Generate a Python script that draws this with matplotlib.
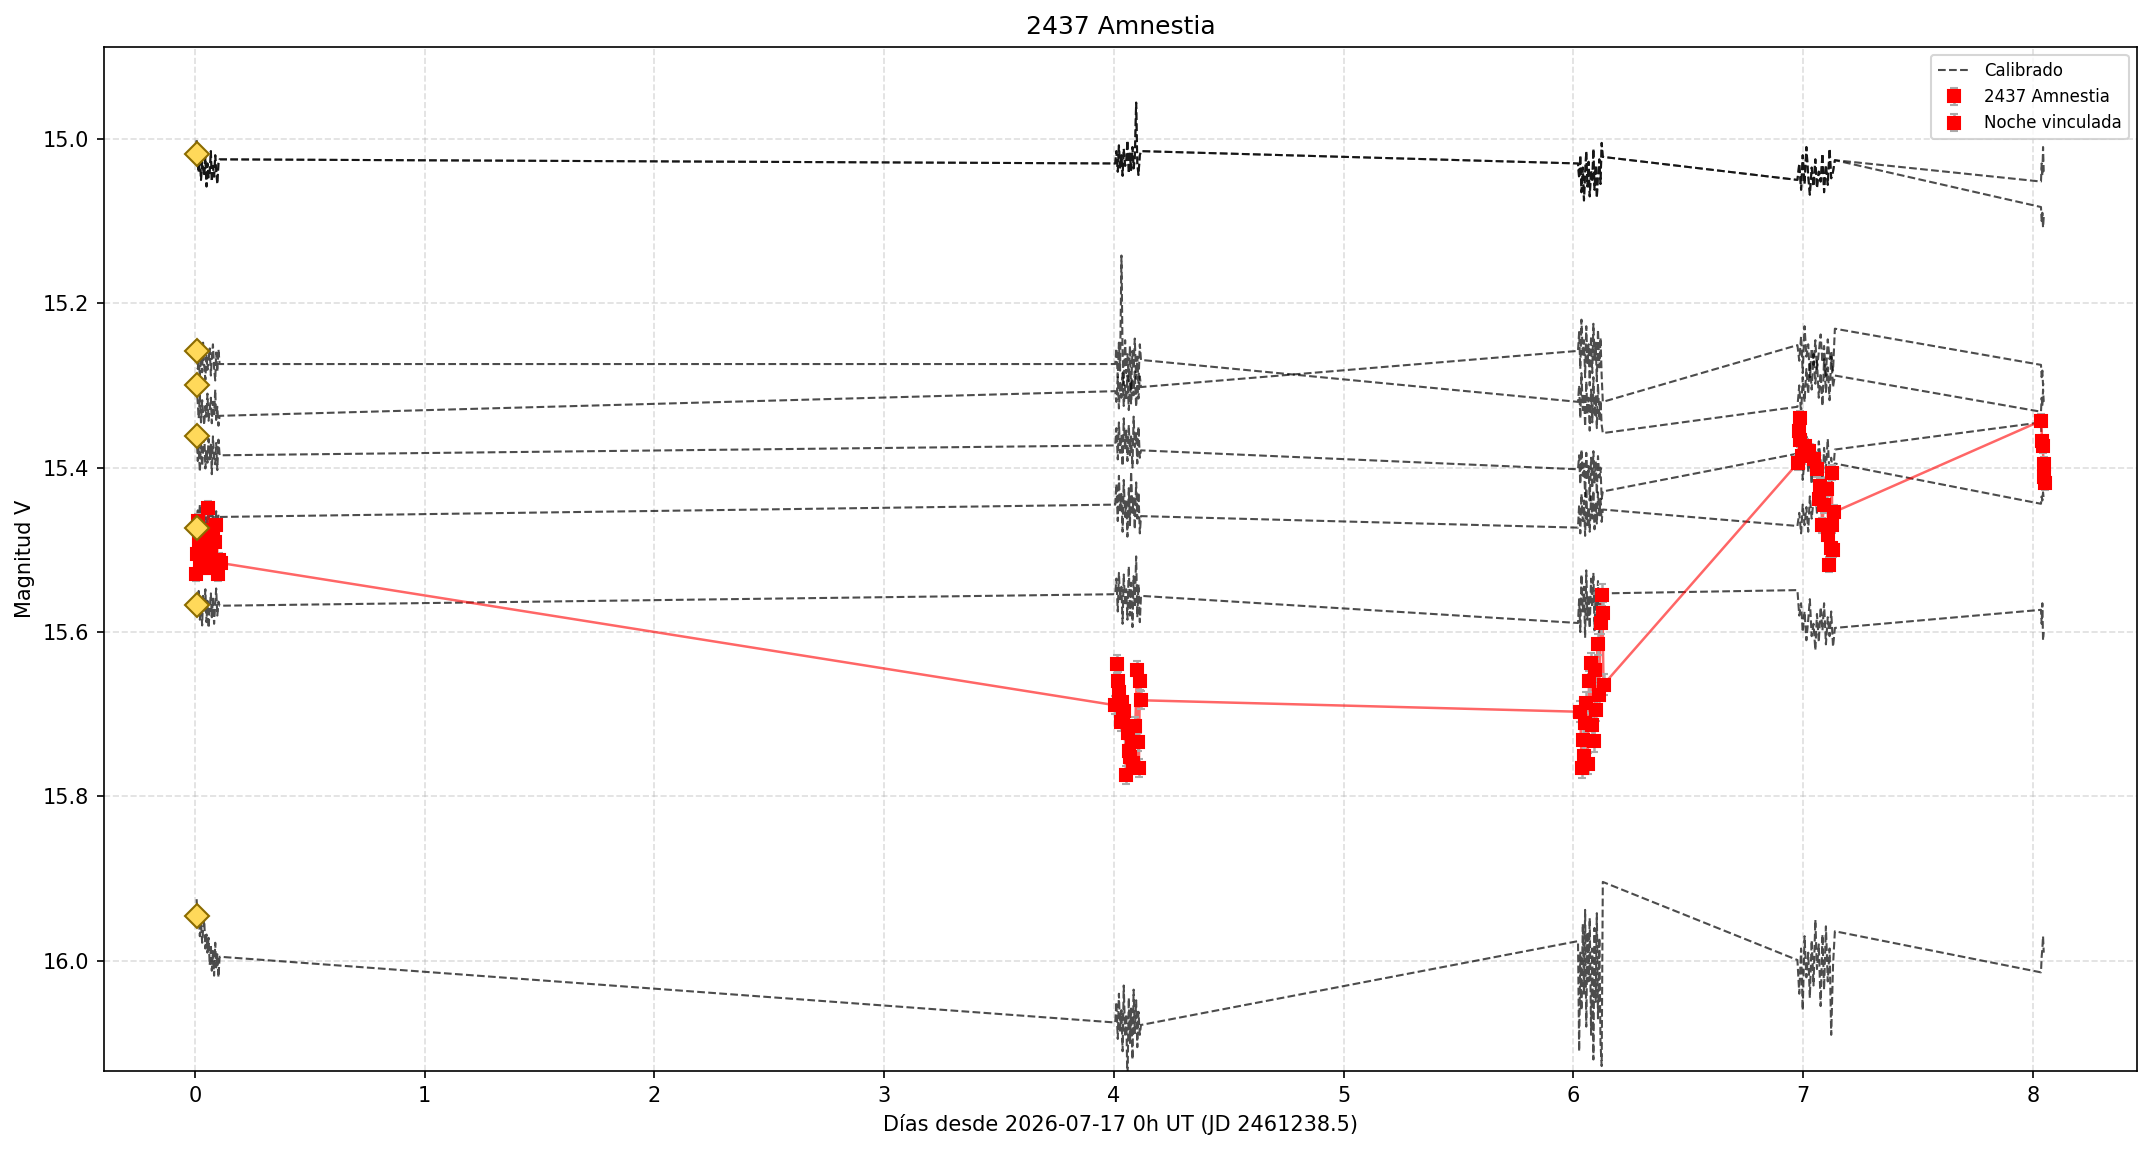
import matplotlib
matplotlib.use("Agg")
import matplotlib.pyplot as plt

# ---------------- data ----------------
# shared frame times of the comparison stars, per night
t_n0 = [0.008, 0.013, 0.017, 0.022, 0.027, 0.032, 0.036, 0.041, 0.046, 0.051, 0.055,
        0.060, 0.065, 0.070, 0.074, 0.079, 0.084, 0.089, 0.093, 0.098, 0.103, 0.108]
t_n4 = [4.006, 4.011, 4.017, 4.022, 4.027, 4.033, 4.038, 4.043, 4.049, 4.054, 4.059,
        4.065, 4.070, 4.075, 4.081, 4.086, 4.091, 4.097, 4.102, 4.107, 4.113, 4.118]
t_n6 = [6.020, 6.025, 6.030, 6.035, 6.041, 6.046, 6.051, 6.056, 6.061, 6.066, 6.071,
        6.077, 6.082, 6.087, 6.092, 6.097, 6.102, 6.107, 6.113, 6.118, 6.123, 6.128]
t_n7 = [6.975, 6.983, 6.991, 6.998, 7.006, 7.014, 7.022, 7.029, 7.037, 7.045, 7.053,
        7.060, 7.068, 7.076, 7.084, 7.091, 7.099, 7.107, 7.115, 7.122, 7.130, 7.138]
t_n8 = [8.035, 8.038, 8.041, 8.044, 8.047]

# calibrated comparison-star magnitudes (night 0, 4, 6, 7, 8)
s1_n0 = [15.002, 15.032, 15.041, 15.018, 15.050, 15.028, 15.036, 15.045, 15.022, 15.058, 15.030,
         15.047, 15.040, 15.015, 15.052, 15.033, 15.046, 15.020, 15.038, 15.055, 15.030, 15.025]
s1_n4 = [15.030, 15.015, 15.040, 15.008, 15.035, 15.020, 15.045, 15.012, 15.033, 15.028, 15.002,
         15.042, 15.018, 15.038, 15.010, 15.036, 15.025, 14.956, 15.030, 15.044, 15.020, 15.015]
s1_n6 = [15.030, 15.048, 15.020, 15.065, 15.035, 15.075, 15.042, 15.015, 15.058, 15.028, 15.070,
         15.038, 15.052, 15.012, 15.062, 15.032, 15.072, 15.045, 15.025, 15.055, 15.005, 15.022]
s1_n7 = [15.050, 15.030, 15.062, 15.020, 15.055, 15.010, 15.045, 15.068, 15.035, 15.058, 15.025,
         15.060, 15.040, 15.052, 15.018, 15.065, 15.032, 15.056, 15.012, 15.048, 15.040, 15.026]
s1_n8 = [15.052, 15.030, 15.045, 15.010, 15.040]
s1b_n8 = [15.083, 15.100, 15.090, 15.108, 15.095]

s2_n0 = [15.252, 15.280, 15.265, 15.290, 15.258, 15.284, 15.248, 15.276, 15.293, 15.262, 15.281,
         15.270, 15.255, 15.288, 15.266, 15.250, 15.279, 15.294, 15.260, 15.283, 15.256, 15.274]
s2_n4 = [15.274, 15.255, 15.290, 15.248, 15.282, 15.142, 15.262, 15.300, 15.245, 15.285, 15.262,
         15.295, 15.252, 15.305, 15.258, 15.280, 15.243, 15.292, 15.265, 15.298, 15.250, 15.269]
s2_n6 = [15.320, 15.300, 15.340, 15.285, 15.330, 15.310, 15.350, 15.295, 15.335, 15.315, 15.355,
         15.305, 15.345, 15.290, 15.338, 15.312, 15.352, 15.298, 15.342, 15.318, 15.348, 15.358]
s2_n7 = [15.326, 15.300, 15.335, 15.290, 15.320, 15.280, 15.310, 15.272, 15.305, 15.262, 15.298,
         15.270, 15.315, 15.285, 15.325, 15.268, 15.308, 15.278, 15.318, 15.265, 15.302, 15.288]
s2_n8 = [15.332, 15.315, 15.325, 15.305, 15.320]

s3_n0 = [15.300, 15.322, 15.340, 15.312, 15.345, 15.318, 15.333, 15.348, 15.325, 15.338, 15.310,
         15.343, 15.328, 15.315, 15.346, 15.320, 15.335, 15.305, 15.342, 15.326, 15.349, 15.337]
s3_n4 = [15.307, 15.320, 15.290, 15.328, 15.295, 15.315, 15.285, 15.325, 15.300, 15.318, 15.288,
         15.330, 15.296, 15.322, 15.292, 15.312, 15.283, 15.326, 15.298, 15.316, 15.289, 15.302]
s3_n6 = [15.258, 15.235, 15.280, 15.220, 15.265, 15.245, 15.290, 15.228, 15.275, 15.250, 15.300,
         15.240, 15.285, 15.225, 15.270, 15.248, 15.295, 15.232, 15.278, 15.242, 15.288, 15.320]
s3_n7 = [15.251, 15.270, 15.240, 15.285, 15.228, 15.265, 15.250, 15.290, 15.255, 15.275, 15.245,
         15.280, 15.260, 15.238, 15.272, 15.252, 15.288, 15.244, 15.268, 15.258, 15.282, 15.231]
s3_n8 = [15.275, 15.290, 15.282, 15.300, 15.295]

s4_n0 = [15.360, 15.392, 15.375, 15.405, 15.368, 15.398, 15.382, 15.357, 15.401, 15.378, 15.394,
         15.365, 15.390, 15.372, 15.408, 15.362, 15.388, 15.396, 15.370, 15.403, 15.366, 15.385]
s4_n4 = [15.373, 15.352, 15.390, 15.345, 15.382, 15.360, 15.398, 15.340, 15.378, 15.355, 15.392,
         15.348, 15.385, 15.362, 15.400, 15.338, 15.375, 15.358, 15.395, 15.350, 15.388, 15.379]
s4_n6 = [15.402, 15.385, 15.420, 15.378, 15.410, 15.395, 15.435, 15.382, 15.415, 15.398, 15.440,
         15.388, 15.425, 15.380, 15.418, 15.392, 15.432, 15.386, 15.412, 15.400, 15.438, 15.429]
s4_n7 = [15.383, 15.400, 15.370, 15.415, 15.390, 15.362, 15.405, 15.385, 15.420, 15.372, 15.398,
         15.410, 15.368, 15.392, 15.425, 15.376, 15.402, 15.365, 15.412, 15.388, 15.408, 15.378]
s4_n8 = [15.345, 15.370, 15.390, 15.410, 15.425]

s5_n0 = [15.470, 15.452, 15.478, 15.445, 15.488, 15.462, 15.475, 15.450, 15.482, 15.458, 15.468,
         15.447, 15.472, 15.455, 15.485, 15.449, 15.466, 15.480, 15.453, 15.476, 15.457, 15.460]
s5_n4 = [15.445, 15.420, 15.465, 15.410, 15.452, 15.432, 15.478, 15.415, 15.460, 15.440, 15.484,
         15.425, 15.470, 15.405, 15.455, 15.436, 15.475, 15.418, 15.462, 15.430, 15.480, 15.459]
s5_n6 = [15.473, 15.445, 15.480, 15.432, 15.465, 15.440, 15.483, 15.425, 15.470, 15.448, 15.478,
         15.435, 15.462, 15.428, 15.475, 15.442, 15.468, 15.430, 15.458, 15.438, 15.466, 15.451]
s5_n7 = [15.471, 15.455, 15.480, 15.445, 15.470, 15.448, 15.478, 15.435, 15.462, 15.440, 15.425,
         15.455, 15.430, 15.450, 15.415, 15.440, 15.405, 15.432, 15.410, 15.420, 15.400, 15.395]
s5_n8 = [15.444, 15.435, 15.440, 15.430, 15.438]

s6_n0 = [15.560, 15.578, 15.550, 15.585, 15.565, 15.592, 15.556, 15.574, 15.548, 15.588, 15.562,
         15.595, 15.571, 15.553, 15.582, 15.558, 15.590, 15.566, 15.547, 15.580, 15.563, 15.568]
s6_n4 = [15.554, 15.535, 15.575, 15.528, 15.560, 15.545, 15.590, 15.530, 15.568, 15.548, 15.585,
         15.520, 15.580, 15.540, 15.594, 15.532, 15.570, 15.508, 15.582, 15.542, 15.588, 15.556]
s6_n6 = [15.589, 15.560, 15.600, 15.530, 15.575, 15.545, 15.607, 15.525, 15.585, 15.555, 15.595,
         15.535, 15.570, 15.528, 15.598, 15.548, 15.580, 15.538, 15.603, 15.550, 15.578, 15.553]
s6_n7 = [15.549, 15.580, 15.565, 15.600, 15.575, 15.610, 15.585, 15.560, 15.605, 15.590, 15.622,
         15.578, 15.612, 15.570, 15.598, 15.565, 15.615, 15.582, 15.605, 15.575, 15.618, 15.595]
s6_n8 = [15.573, 15.590, 15.565, 15.610, 15.600]

s7_n0 = [15.925, 15.958, 15.945, 15.970, 15.952, 15.978, 15.962, 15.950, 15.985, 15.968, 15.990,
         15.972, 16.005, 15.980, 16.012, 15.988, 16.018, 15.978, 16.008, 15.992, 16.020, 15.995]
s7_n4 = [16.075, 16.050, 16.095, 16.040, 16.085, 16.060, 16.110, 16.030, 16.092, 16.065, 16.150,
         16.045, 16.100, 16.058, 16.120, 16.035, 16.088, 16.048, 16.105, 16.062, 16.090, 16.078]
s7_n6 = [15.976, 16.110, 15.990, 16.060, 15.955, 16.040, 15.938, 16.080, 15.965, 16.025, 15.948,
         16.090, 15.985, 16.120, 15.960, 16.050, 15.942, 16.070, 15.972, 16.100, 16.128, 15.904]
s7_n7 = [15.999, 16.040, 15.985, 16.060, 15.970, 16.020, 15.990, 16.045, 15.975, 16.030, 15.950,
         16.010, 15.980, 16.055, 15.968, 16.035, 15.958, 16.025, 15.985, 16.090, 16.005, 15.964]
s7_n8 = [16.014, 15.995, 15.985, 15.970, 15.990]

# reference (catalogue) magnitudes of the comparison stars at the first frame
ref_mags = [15.019, 15.258, 15.299, 15.362, 15.474, 15.567, 15.946]

# asteroid 2437 Amnestia
ast_t0 = [0.007, 0.010, 0.012, 0.018, 0.024, 0.030, 0.037, 0.044, 0.051, 0.058, 0.065, 0.072,
          0.080, 0.087, 0.094, 0.101, 0.106, 0.112]
ast_m0 = [15.530, 15.505, 15.465, 15.492, 15.520, 15.476, 15.510, 15.502, 15.522, 15.449, 15.495,
          15.508, 15.484, 15.490, 15.470, 15.530, 15.512, 15.516]
ast_e0 = 0.008
ast_t4 = [4.005, 4.012, 4.018, 4.024, 4.030, 4.037, 4.040, 4.045, 4.053, 4.061, 4.068, 4.072,
          4.077, 4.085, 4.093, 4.101, 4.105, 4.109, 4.113, 4.118]
ast_m4 = [15.689, 15.639, 15.660, 15.673, 15.709, 15.685, 15.700, 15.696, 15.774, 15.723, 15.745,
          15.752, 15.734, 15.759, 15.714, 15.646, 15.734, 15.765, 15.660, 15.683]
ast_e4 = 0.011
ast_t6 = [6.030, 6.036, 6.040, 6.046, 6.052, 6.056, 6.062, 6.068, 6.075, 6.080, 6.090, 6.095,
          6.100, 6.106, 6.112, 6.119, 6.123, 6.127, 6.131]
ast_m6 = [15.697, 15.765, 15.731, 15.751, 15.711, 15.686, 15.760, 15.660, 15.638, 15.713, 15.733,
          15.646, 15.695, 15.615, 15.676, 15.589, 15.555, 15.577, 15.664]
ast_e6 = 0.013
ast_t7 = [6.978, 6.982, 6.985, 6.988, 6.996, 7.008, 7.026, 7.046, 7.061, 7.068, 7.075, 7.083,
          7.090, 7.104, 7.110, 7.113, 7.119, 7.124, 7.127, 7.131, 7.135]
ast_m7 = [15.394, 15.356, 15.340, 15.366, 15.386, 15.374, 15.380, 15.390, 15.402, 15.438, 15.422,
          15.470, 15.446, 15.426, 15.482, 15.518, 15.498, 15.406, 15.470, 15.500, 15.454]
ast_e7 = 0.009
# linked night
ast_t8 = [8.036, 8.040, 8.043, 8.046, 8.049, 8.051]
ast_m8 = [15.343, 15.368, 15.374, 15.395, 15.411, 15.419]
ast_e8 = 0.008

# ---------------- plot ----------------
fig = plt.figure(figsize=(2153 / 150, 1151 / 150), dpi=150)
ax = fig.add_axes([0.0483, 0.0695, 0.9926 - 0.0483, 0.9594 - 0.0695])

times = t_n0 + t_n4 + t_n6 + t_n7 + t_n8
stars = [
    s1_n0 + s1_n4 + s1_n6 + s1_n7 + s1_n8,
    s1_n0 + s1_n4 + s1_n6 + s1_n7 + s1b_n8,
    s2_n0 + s2_n4 + s2_n6 + s2_n7 + s2_n8,
    s3_n0 + s3_n4 + s3_n6 + s3_n7 + s3_n8,
    s4_n0 + s4_n4 + s4_n6 + s4_n7 + s4_n8,
    s5_n0 + s5_n4 + s5_n6 + s5_n7 + s5_n8,
    s6_n0 + s6_n4 + s6_n6 + s6_n7 + s6_n8,
    s7_n0 + s7_n4 + s7_n6 + s7_n7 + s7_n8,
]
for i, mags in enumerate(stars):
    n = min(len(times), len(mags))
    ax.plot(times[:n], mags[:n], linestyle="--", color="black", alpha=0.7, lw=1.0,
            label="Calibrado" if i == 0 else None, zorder=2)

ax.plot([t_n0[0]] * len(ref_mags), ref_mags, linestyle="none", marker="D",
        ms=8, mfc="#FFD95A", mec="#8B6B00", mew=1.0, zorder=6)

all_t = ast_t0 + ast_t4 + ast_t6 + ast_t7 + ast_t8
all_m = ast_m0 + ast_m4 + ast_m6 + ast_m7 + ast_m8
ax.plot(all_t, all_m, color="red", alpha=0.6, lw=1.2, zorder=3)

main_t = ast_t0 + ast_t4 + ast_t6 + ast_t7
main_m = ast_m0 + ast_m4 + ast_m6 + ast_m7
main_e = ([ast_e0] * len(ast_t0) + [ast_e4] * len(ast_t4) +
          [ast_e6] * len(ast_t6) + [ast_e7] * len(ast_t7))
ax.errorbar(main_t, main_m, yerr=main_e, fmt="s", color="red", ms=6,
            ecolor="#aaaaaa", elinewidth=1.2, capsize=2, zorder=4,
            label="2437 Amnestia")
ax.errorbar(ast_t8, ast_m8, yerr=[ast_e8] * len(ast_t8), fmt="s", color="red", ms=6,
            ecolor="#aaaaaa", elinewidth=1.2, capsize=2, zorder=4,
            label="Noche vinculada")

ax.set_ylim(16.134, 14.888)
ax.set_xticks(range(0, 9))
ax.set_yticks([15.0, 15.2, 15.4, 15.6, 15.8, 16.0])
ax.grid(True, linestyle="--", alpha=0.4)
ax.set_title("2437 Amnestia", fontsize=12)
ax.set_xlabel("Días desde 2026-07-17 0h UT (JD 2461238.5)")
ax.set_ylabel("Magnitud V")
ax.legend(loc="upper right", fontsize=8)

fig.savefig("out.png", dpi=150)
